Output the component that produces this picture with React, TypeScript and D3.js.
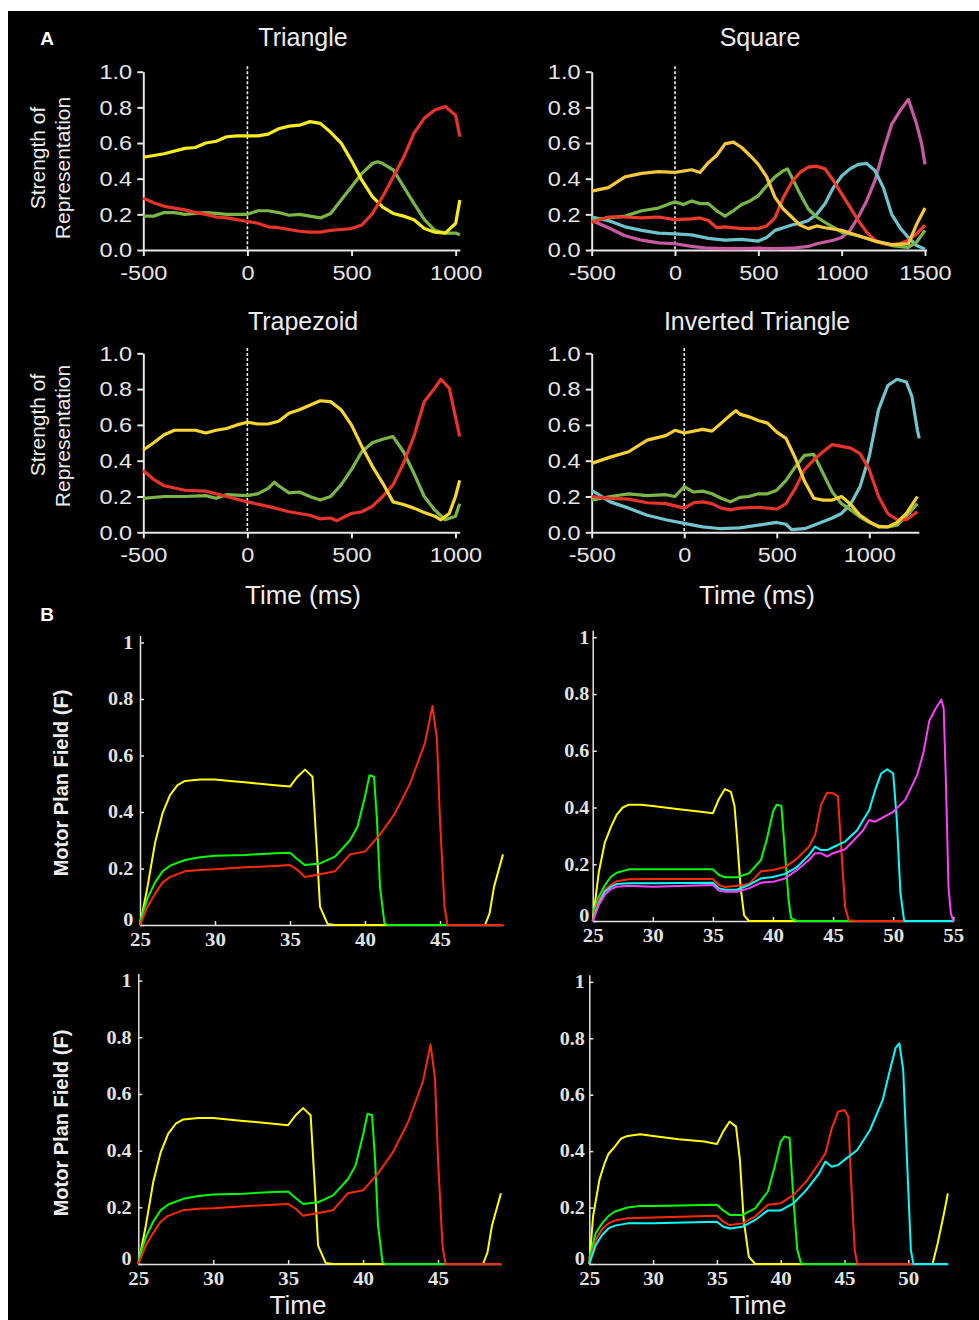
import React from "react";
import * as d3 from "d3";

type Pt = [number, number];

const W = 979;
const H = 1320;
const SANS = "'Liberation Sans', Arial, sans-serif";
const SERIF = "'Liberation Serif', 'Times New Roman', serif";

// ---------- Panel A: strength of representation (time in ms) ----------
const triYellow: Pt[] = [[-500, .52], [-400, .54], [-300, .57], [-250, .575], [-200, .6], [-150, .61], [-100, .635], [-50, .64], [0, .64], [50, .64], [100, .65], [150, .68], [200, .695], [250, .7], [300, .72], [350, .71], [400, .66], [450, .6], [500, .5], [550, .39], [600, .3], [650, .24], [700, .205], [750, .19], [800, .17], [850, .12], [900, .1], [950, .095], [1000, .15], [1020, .28]];
const triGreen: Pt[] = [[-500, .19], [-450, .19], [-400, .21], [-350, .21], [-300, .2], [-250, .205], [-200, .21], [-150, .205], [-100, .2], [-50, .2], [0, .2], [50, .22], [100, .22], [150, .21], [200, .195], [250, .2], [300, .19], [350, .18], [400, .205], [450, .28], [500, .355], [550, .43], [600, .485], [625, .495], [650, .485], [700, .45], [750, .355], [800, .26], [850, .17], [900, .11], [950, .095], [1000, .095], [1020, .085]];
const triRed: Pt[] = [[-500, .29], [-450, .265], [-400, .245], [-350, .235], [-300, .225], [-250, .21], [-200, .2], [-150, .185], [-100, .18], [-50, .17], [0, .16], [50, .15], [100, .13], [150, .125], [200, .115], [250, .105], [300, .1], [350, .1], [400, .11], [450, .115], [500, .12], [550, .14], [600, .205], [650, .3], [700, .41], [750, .52], [800, .655], [850, .74], [900, .785], [950, .805], [1000, .755], [1020, .635]];

const sqYellow: Pt[] = [[-500, .33], [-400, .35], [-300, .41], [-200, .43], [-100, .44], [0, .435], [100, .45], [150, .435], [200, .49], [250, .53], [300, .595], [350, .605], [400, .575], [450, .53], [500, .48], [550, .41], [600, .295], [650, .23], [700, .185], [750, .14], [800, .12], [850, .135], [900, .125], [1000, .11], [1100, .08], [1200, .05], [1300, .03], [1400, .035], [1450, .145], [1500, .235]];
const sqGreen: Pt[] = [[-500, .165], [-400, .18], [-300, .19], [-200, .22], [-100, .235], [0, .27], [50, .255], [100, .275], [150, .26], [200, .26], [250, .22], [300, .19], [350, .22], [400, .255], [450, .275], [500, .305], [550, .36], [600, .41], [650, .445], [675, .455], [700, .41], [750, .315], [800, .23], [850, .185], [900, .155], [1000, .1], [1100, .08], [1200, .05], [1300, .025], [1400, .015], [1450, .045], [1500, .11]];
const sqRed: Pt[] = [[-500, .155], [-400, .185], [-300, .185], [-200, .18], [-100, .185], [0, .17], [100, .175], [150, .18], [200, .165], [250, .125], [300, .13], [400, .12], [500, .12], [550, .135], [600, .18], [650, .295], [700, .38], [750, .435], [800, .465], [850, .47], [900, .455], [950, .39], [1000, .315], [1050, .24], [1100, .165], [1150, .1], [1200, .055], [1250, .035], [1300, .03], [1350, .035], [1400, .055], [1450, .09], [1500, .14]];
const sqCyan: Pt[] = [[-500, .185], [-400, .165], [-300, .13], [-200, .11], [-100, .095], [0, .09], [100, .085], [200, .065], [300, .055], [400, .06], [500, .05], [550, .07], [600, .11], [650, .125], [700, .14], [750, .15], [800, .165], [850, .2], [900, .26], [950, .35], [1000, .415], [1050, .455], [1100, .48], [1150, .485], [1200, .445], [1250, .35], [1300, .2], [1350, .125], [1400, .07], [1450, .025], [1500, .005]];
const sqMagenta: Pt[] = [[-500, .165], [-400, .125], [-300, .08], [-200, .055], [-100, .04], [0, .035], [100, .02], [200, .01], [300, .008], [400, .008], [500, .01], [600, .008], [700, .01], [800, .02], [850, .035], [900, .045], [950, .055], [1000, .07], [1050, .11], [1100, .185], [1150, .275], [1200, .39], [1250, .555], [1300, .705], [1350, .78], [1400, .845], [1450, .705], [1480, .595], [1500, .48]];

const trapYellow: Pt[] = [[-500, .46], [-450, .5], [-400, .545], [-350, .57], [-300, .57], [-250, .57], [-200, .555], [-150, .57], [-100, .58], [-50, .6], [0, .615], [50, .605], [100, .605], [150, .62], [200, .665], [250, .685], [300, .71], [350, .735], [400, .73], [450, .685], [500, .6], [550, .48], [600, .37], [650, .275], [700, .17], [750, .155], [800, .135], [850, .11], [900, .09], [930, .07], [970, .105], [1000, .2], [1020, .29]];
const trapGreen: Pt[] = [[-500, .19], [-400, .2], [-300, .2], [-200, .205], [-150, .19], [-100, .21], [0, .205], [50, .215], [100, .245], [130, .28], [150, .26], [200, .22], [250, .225], [300, .2], [350, .18], [400, .2], [450, .265], [500, .35], [550, .45], [600, .5], [650, .52], [700, .535], [750, .45], [800, .33], [850, .2], [900, .125], [950, .07], [1000, .09], [1020, .16]];
const trapRed: Pt[] = [[-500, .345], [-450, .295], [-400, .26], [-300, .235], [-200, .23], [-100, .2], [0, .17], [100, .145], [200, .115], [300, .095], [350, .075], [400, .08], [430, .065], [500, .105], [550, .115], [600, .145], [650, .2], [700, .265], [750, .385], [800, .535], [850, .73], [900, .805], [930, .855], [970, .805], [1000, .645], [1020, .535]];

const invYellow: Pt[] = [[-500, .385], [-400, .42], [-300, .45], [-200, .515], [-100, .54], [-50, .57], [0, .555], [100, .575], [150, .565], [200, .61], [250, .655], [280, .68], [300, .66], [350, .645], [400, .625], [450, .61], [500, .56], [550, .525], [600, .415], [650, .285], [700, .19], [750, .18], [800, .18], [850, .2], [900, .155], [950, .095], [1000, .06], [1050, .03], [1100, .03], [1150, .055], [1200, .105], [1260, .2]];
const invGreen: Pt[] = [[-500, .18], [-400, .2], [-300, .215], [-200, .205], [-100, .21], [-50, .2], [0, .255], [50, .225], [100, .23], [150, .215], [200, .19], [250, .17], [300, .195], [350, .2], [400, .215], [450, .215], [500, .235], [550, .29], [600, .365], [650, .43], [700, .435], [750, .33], [800, .225], [850, .16], [900, .125], [950, .085], [1000, .055], [1050, .035], [1100, .03], [1150, .04], [1200, .09], [1260, .16]];
const invRed: Pt[] = [[-500, .2], [-400, .19], [-300, .185], [-200, .165], [-100, .16], [0, .135], [50, .165], [100, .17], [150, .16], [200, .135], [250, .125], [300, .135], [400, .14], [450, .135], [500, .13], [550, .16], [600, .245], [650, .35], [700, .405], [750, .45], [800, .49], [850, .48], [900, .47], [950, .44], [1000, .35], [1050, .2], [1100, .105], [1150, .07], [1200, .07], [1260, .115]];
const invCyan: Pt[] = [[-500, .235], [-400, .17], [-300, .135], [-200, .095], [-100, .07], [0, .05], [100, .03], [200, .02], [300, .025], [400, .04], [500, .055], [550, .045], [580, .015], [650, .02], [700, .04], [800, .08], [850, .105], [900, .16], [950, .255], [1000, .425], [1050, .685], [1100, .82], [1150, .855], [1200, .84], [1230, .76], [1260, .57], [1270, .525]];

const aYTicks = [0, 0.2, 0.4, 0.6, 0.8, 1.0];
const aXTicks3 = [-500, 0, 500, 1000];
const aXTicks4 = [-500, 0, 500, 1000, 1500];

// ---------- Panel B: motor plan field (model time) ----------
const b3Yellow: Pt[] = [[25, 0], [25.5, .135], [26, .29], [26.5, .395], [27, .46], [27.5, .495], [28, .51], [29, .515], [30, .515], [31, .51], [32, .505], [33, .5], [34, .495], [35, .49], [35.5, .525], [36, .55], [36.3, .535], [36.5, .525], [36.8, .255], [37, .065], [37.5, .004], [38, 0], [48, 0], [48.3, .04], [48.6, .135], [49.2, .25]];
const b3Green: Pt[] = [[25, .012], [25.5, .095], [26, .15], [26.5, .19], [27, .21], [28, .23], [29, .24], [30, .245], [32, .248], [34, .254], [35, .256], [35.5, .233], [36, .212], [37, .218], [38, .242], [39, .3], [39.5, .348], [40, .455], [40.3, .53], [40.6, .525], [40.8, .37], [41, .135], [41.3, .006], [41.5, 0], [49.2, 0]];
const b3Red: Pt[] = [[25, 0], [25.5, .065], [26, .11], [26.5, .15], [27, .17], [28, .19], [29, .195], [30, .197], [32, .204], [34, .209], [35, .212], [35.5, .195], [36, .17], [37, .18], [38, .19], [39, .25], [40, .26], [41, .32], [42, .395], [43, .5], [44, .645], [44.5, .775], [44.8, .655], [45, .37], [45.3, .065], [45.5, 0], [49.2, 0]];

const b5Yellow: Pt[] = [[25, 0], [25.5, .17], [26, .275], [26.5, .33], [27, .375], [27.5, .4], [28, .41], [29, .41], [30, .405], [32, .395], [34, .385], [35, .38], [35.5, .43], [36, .465], [36.5, .455], [36.8, .405], [37, .3], [37.3, .12], [37.6, .02], [38, 0], [55, 0]];
const b5Green: Pt[] = [[25, .027], [25.5, .085], [26, .125], [26.5, .155], [27, .17], [28, .182], [30, .182], [35, .182], [35.5, .162], [36, .154], [37, .154], [38, .168], [39, .215], [39.5, .29], [40, .385], [40.3, .41], [40.7, .405], [41, .24], [41.3, .074], [41.5, .01], [42, 0], [55, 0]];
const b5Red: Pt[] = [[25, 0], [25.5, .074], [26, .11], [26.5, .127], [27, .14], [28, .147], [30, .148], [35, .148], [35.5, .127], [36, .12], [37, .124], [38, .13], [39, .175], [40, .18], [41, .19], [42, .22], [43, .262], [43.5, .303], [44, .41], [44.5, .452], [45, .45], [45.4, .44], [45.7, .24], [46, .05], [46.3, .003], [47, 0], [55, 0]];
const b5Cyan: Pt[] = [[25, 0], [25.5, .062], [26, .103], [26.5, .12], [27, .13], [28, .133], [30, .133], [35, .135], [35.5, .115], [36, .11], [37, .11], [38, .127], [39, .15], [40, .155], [41, .166], [42, .19], [43, .233], [43.5, .262], [44, .25], [44.5, .25], [45, .26], [46, .28], [47, .32], [47.5, .356], [48, .39], [48.5, .462], [49, .52], [49.5, .535], [50, .52], [50.3, .356], [50.6, .1], [50.9, .004], [51, 0], [55, 0]];
const b5Magenta: Pt[] = [[25, 0], [25.5, .056], [26, .092], [26.5, .112], [27, .121], [28, .124], [30, .121], [35, .127], [35.5, .107], [36, .103], [37, .103], [38, .115], [39, .135], [40, .138], [41, .15], [42, .18], [43, .215], [43.5, .239], [44, .239], [44.5, .227], [45, .239], [46, .253], [47, .297], [47.5, .32], [48, .356], [48.5, .35], [49, .362], [50, .385], [51, .427], [52, .515], [52.5, .59], [53, .705], [53.5, .746], [54, .78], [54.2, .75], [54.4, .47], [54.6, .12], [54.8, .027], [55, 0]];

const b4Yellow: Pt[] = [[25, 0], [25.3, .17], [25.8, .3], [26.2, .357], [26.5, .39], [27, .416], [27.5, .445], [28, .454], [29, .46], [30, .454], [32, .442], [34, .434], [35, .425], [35.5, .47], [36, .505], [36.5, .487], [36.8, .37], [37.1, .156], [37.5, .026], [38, 0], [51.9, 0], [52.3, .073], [52.8, .18], [53.1, .25]];
const b4Green: Pt[] = [[25, .02], [25.5, .109], [26, .144], [26.5, .17], [27, .186], [28, .2], [29, .206], [30, .206], [35, .21], [35.5, .19], [36, .174], [37, .174], [38, .197], [39, .257], [39.5, .34], [40, .434], [40.3, .452], [40.7, .446], [41, .227], [41.3, .05], [41.6, .002], [42, 0], [53.1, 0]];
const b4Red: Pt[] = [[25, 0], [25.5, .085], [26, .123], [26.5, .144], [27, .154], [28, .162], [30, .165], [35, .171], [35.5, .15], [36, .138], [37, .144], [38, .168], [39, .21], [40, .215], [41, .245], [42, .292], [43, .357], [43.5, .392], [44, .48], [44.5, .54], [45, .546], [45.3, .522], [45.5, .31], [45.8, .05], [46, 0], [53.1, 0]];
const b4Cyan: Pt[] = [[25, 0], [25.5, .067], [26, .103], [26.5, .126], [27, .136], [28, .144], [30, .144], [35, .15], [35.5, .132], [36, .126], [37, .132], [38, .156], [39, .19], [40, .19], [41, .215], [42, .262], [43, .32], [43.5, .363], [44, .345], [44.5, .351], [45, .369], [46, .404], [47, .475], [48, .582], [48.5, .676], [49, .765], [49.3, .782], [49.6, .688], [49.9, .369], [50.2, .05], [50.4, 0], [53.1, 0]];

const bYTicks = [0, 0.2, 0.4, 0.6, 0.8, 1];

type Series = { data: Pt[]; color: string };
type PanelA = {
  title: string; titleX: number; titleY: number;
  xDomain: [number, number]; xRange: [number, number]; xEnd: number; xTicks: number[];
  yRange: [number, number]; series: Series[];
};
type PanelB = {
  xDomain: [number, number]; xRange: [number, number]; xEnd: number; xTicks: number[];
  yRange: [number, number]; labelPad: number; series: Series[];
};

const panelsA: PanelA[] = [
  {
    title: "Triangle", titleX: 303, titleY: 46,
    xDomain: [-500, 1000], xRange: [143.3, 455.7], xEnd: 1020, xTicks: aXTicks3,
    yRange: [250, 71.7],
    series: [
      { data: triGreen, color: "#7cb547" },
      { data: triYellow, color: "#f7ec1e" },
      { data: triRed, color: "#e8332a" },
    ],
  },
  {
    title: "Square", titleX: 760, titleY: 46,
    xDomain: [-500, 1500], xRange: [591.7, 925], xEnd: 1510, xTicks: aXTicks4,
    yRange: [250, 71.7],
    series: [
      { data: sqMagenta, color: "#c75aa0" },
      { data: sqCyan, color: "#6cc3cb" },
      { data: sqGreen, color: "#77b548" },
      { data: sqRed, color: "#ec3a2b" },
      { data: sqYellow, color: "#f4c73e" },
    ],
  },
  {
    title: "Trapezoid", titleX: 303, titleY: 330,
    xDomain: [-500, 1000], xRange: [143.3, 455.5], xEnd: 1020, xTicks: aXTicks3,
    yRange: [532.3, 353.3],
    series: [
      { data: trapGreen, color: "#7cb547" },
      { data: trapRed, color: "#e8332a" },
      { data: trapYellow, color: "#f7d630" },
    ],
  },
  {
    title: "Inverted Triangle", titleX: 757, titleY: 330,
    xDomain: [-500, 1000], xRange: [591.7, 869.3], xEnd: 1268, xTicks: aXTicks3,
    yRange: [532.3, 353.3],
    series: [
      { data: invCyan, color: "#72c5cd" },
      { data: invGreen, color: "#7cb547" },
      { data: invRed, color: "#e8332a" },
      { data: invYellow, color: "#f6cf35" },
    ],
  },
];

const panelsB: PanelB[] = [
  {
    xDomain: [25, 45], xRange: [140, 440], xEnd: 49.2, xTicks: [25, 30, 35, 40, 45],
    yRange: [925, 699], labelPad: 6,
    series: [
      { data: b3Yellow, color: "#ffff00" },
      { data: b3Green, color: "#00ff00" },
      { data: b3Red, color: "#ff2a00" },
    ],
  },
  {
    xDomain: [25, 55], xRange: [592.7, 953.3], xEnd: 55, xTicks: [25, 30, 35, 40, 45, 50, 55],
    yRange: [921, 694], labelPad: 3,
    series: [
      { data: b5Yellow, color: "#ffff00" },
      { data: b5Green, color: "#00ff00" },
      { data: b5Red, color: "#ff2a00" },
      { data: b5Cyan, color: "#00ffff" },
      { data: b5Magenta, color: "#ff40ff" },
    ],
  },
  {
    xDomain: [25, 45], xRange: [138.3, 438], xEnd: 49.2, xTicks: [25, 30, 35, 40, 45],
    yRange: [1264, 1037.3], labelPad: 6,
    series: [
      { data: b3Yellow, color: "#ffff00" },
      { data: b3Green, color: "#00ff00" },
      { data: b3Red, color: "#ff2a00" },
    ],
  },
  {
    xDomain: [25, 50], xRange: [589.3, 908.3], xEnd: 53.1, xTicks: [25, 30, 35, 40, 45, 50],
    yRange: [1264, 1038.3], labelPad: 4,
    series: [
      { data: b4Yellow, color: "#ffff00" },
      { data: b4Green, color: "#00ff00" },
      { data: b4Red, color: "#ff2a00" },
      { data: b4Cyan, color: "#00ffff" },
    ],
  },
];

// stretch tick labels a little sideways, the printed figure is wider than tall
const styleAxis = (a: any, color: string, width: number, size: string, family: string, weight: string, sx: number) => {
  a.select(".domain").attr("stroke", color).attr("stroke-width", width);
  a.selectAll(".tick line").attr("stroke", color).attr("stroke-width", width);
  a.selectAll(".tick text")
    .attr("fill", color)
    .attr("transform", `scale(${sx},1)`)
    .style("font-size", size)
    .style("font-family", family)
    .style("font-weight", weight);
};

const drawA = (svg: any, p: PanelA) => {
  const g = svg.append("g");
  const base = d3.scaleLinear().domain(p.xDomain).range(p.xRange);
  const x = d3.scaleLinear().domain([p.xDomain[0], p.xEnd]).range([p.xRange[0], base(p.xEnd)]);
  const y = d3.scaleLinear().domain([0, 1]).range(p.yRange);

  const xg = g.append("g")
    .attr("transform", `translate(0,${y(0)})`)
    .call(d3.axisBottom(x).tickValues(p.xTicks).tickFormat((d: any) => String(d)).tickSize(6).tickSizeOuter(0).tickPadding(9));
  const yg = g.append("g")
    .attr("transform", `translate(${x(p.xDomain[0])},0)`)
    .call(d3.axisLeft(y).tickValues(aYTicks).tickFormat(d3.format(".1f")).tickSize(6).tickSizeOuter(0).tickPadding(4));
  styleAxis(xg, "#e6e6e6", 2, "21px", SANS, "normal", 1.12);
  styleAxis(yg, "#e6e6e6", 2, "21px", SANS, "normal", 1.12);

  // stimulus onset
  g.append("line")
    .attr("x1", x(0)).attr("x2", x(0))
    .attr("y1", y(1.03)).attr("y2", y(0))
    .attr("stroke", "#f0f0f0").attr("stroke-width", 1.6).attr("stroke-dasharray", "3,2");

  const line = d3.line<Pt>().x((d) => x(d[0])).y((d) => y(d[1]));
  p.series.forEach((s) => {
    g.append("path")
      .attr("d", line(s.data))
      .attr("fill", "none")
      .attr("stroke", s.color)
      .attr("stroke-width", 3.2)
      .attr("stroke-linejoin", "round");
  });

  g.append("text")
    .attr("x", p.titleX).attr("y", p.titleY)
    .attr("text-anchor", "middle")
    .attr("fill", "#ececec")
    .style("font-family", SANS).style("font-size", "25px")
    .text(p.title);
};

const drawB = (svg: any, p: PanelB) => {
  const g = svg.append("g");
  const base = d3.scaleLinear().domain(p.xDomain).range(p.xRange);
  const x = d3.scaleLinear().domain([p.xDomain[0], p.xEnd]).range([p.xRange[0], base(p.xEnd)]);
  const y = d3.scaleLinear().domain([0, 0.8]).range(p.yRange);
  const yAx = y.copy().domain([0, 1.025]).range([p.yRange[0], y(1.025)]);

  const xg = g.append("g")
    .attr("transform", `translate(0,${y(0)})`)
    .call(d3.axisBottom(x).tickValues(p.xTicks).tickFormat((d: any) => String(d)).tickSize(-4).tickSizeOuter(0).tickPadding(8));
  const yg = g.append("g")
    .attr("transform", `translate(${x(p.xDomain[0])},0)`)
    .call(d3.axisLeft(yAx).tickValues(bYTicks).tickFormat((d: any) => String(d)).tickSize(-4).tickSizeOuter(0).tickPadding(p.labelPad));
  styleAxis(xg, "#e2e2e2", 1.5, "19px", SERIF, "bold", 1.1);
  styleAxis(yg, "#e2e2e2", 1.5, "18px", SERIF, "bold", 1.12);
  // the "0" sits just above the "25" at the origin
  yg.selectAll(".tick text").filter((d: any) => d === 0).attr("dy", "0.05em");

  const line = d3.line<Pt>().x((d) => x(d[0])).y((d) => y(d[1]));
  p.series.forEach((s) => {
    g.append("path")
      .attr("d", line(s.data))
      .attr("fill", "none")
      .attr("stroke", s.color)
      .attr("stroke-width", 2)
      .attr("stroke-linejoin", "round");
  });
};

const addText = (svg: any, t: string, x: number, y: number, size: number, opts: any = {}) => {
  svg.append("text")
    .attr("transform", `translate(${x},${y})${opts.rotate ? " rotate(-90)" : ""}`)
    .attr("text-anchor", "middle")
    .attr("dy", opts.rotate ? "0.35em" : 0)
    .attr("fill", opts.fill || "#ececec")
    .style("font-family", SANS)
    .style("font-size", `${size}px`)
    .style("font-weight", opts.bold ? "bold" : "normal")
    .text(t);
};

export default function App() {
  const svgRef = React.useRef<SVGSVGElement>(null);

  React.useEffect(() => {
    const svg = d3.select(svgRef.current);
    svg.selectAll("*").remove();
    svg.append("rect").attr("width", W).attr("height", H).attr("fill", "#fff");
    svg.append("rect").attr("x", 8).attr("y", 11).attr("width", W - 8).attr("height", H - 11).attr("fill", "#000");

    panelsA.forEach((p) => drawA(svg, p));
    panelsB.forEach((p) => drawB(svg, p));

    // panel letters
    addText(svg, "A", 47, 45, 19, { bold: true, fill: "#fff" });
    addText(svg, "B", 47, 621, 19, { bold: true, fill: "#fff" });

    // panel A axis titles
    addText(svg, "Strength of", 38, 158, 21, { rotate: true });
    addText(svg, "Representation", 63, 168, 21, { rotate: true });
    addText(svg, "Strength of", 38, 425, 21, { rotate: true });
    addText(svg, "Representation", 63, 436, 21, { rotate: true });
    addText(svg, "Time (ms)", 303, 604, 26);
    addText(svg, "Time (ms)", 757, 604, 26);

    // panel B axis titles
    addText(svg, "Motor Plan Field (F)", 61, 783, 20, { rotate: true, bold: true });
    addText(svg, "Motor Plan Field (F)", 61, 1123, 20, { rotate: true, bold: true });
    addText(svg, "Time", 298, 1314, 26);
    addText(svg, "Time", 758, 1314, 26);
  }, []);

  return (
    <svg
      ref={svgRef}
      width={W}
      height={H}
      style={{ position: "absolute", left: 0, top: 0 }}
    ></svg>
  );
}
